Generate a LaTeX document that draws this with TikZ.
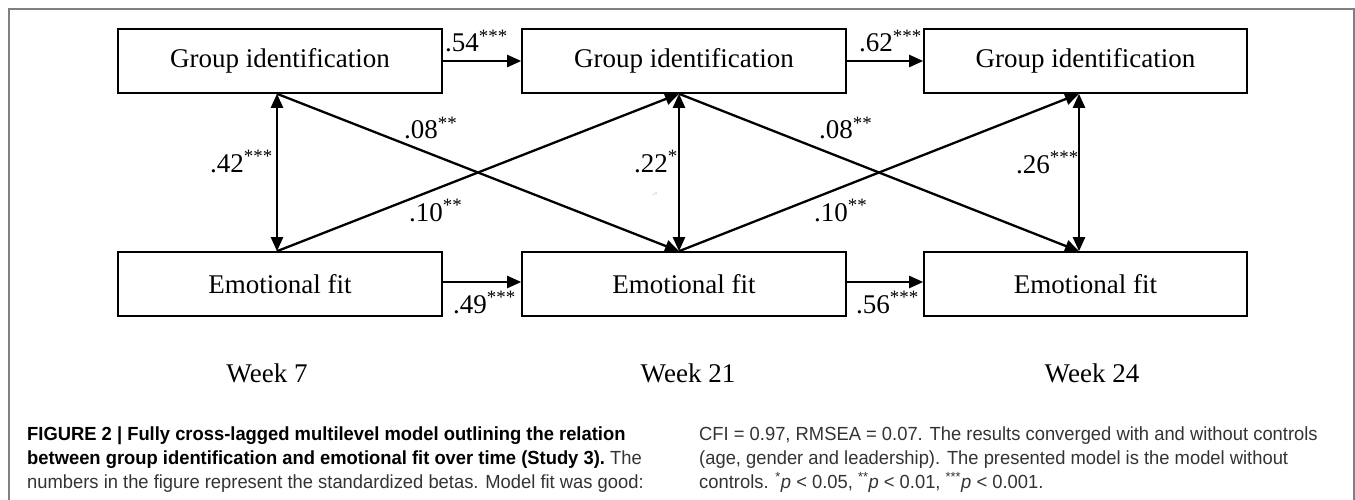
\documentclass[tikz,border=0pt]{standalone}
\usepackage{fontspec}
\setmainfont{Liberation Serif}
\newfontfamily\capfont[FakeStretch=0.967]{Liberation Sans}
\usetikzlibrary{arrows.meta,calc}
\begin{document}
\begin{tikzpicture}[x=1pt,y=-1pt,
  box/.style={draw, line width=1.6pt, minimum width=324pt, minimum height=64pt, inner sep=0pt, font=\fontsize{27}{32}\selectfont},
  arr/.style={line width=2.3pt, -{Triangle[length=14pt,width=12pt]}},
  darr/.style={line width=2.3pt, {Triangle[length=14pt,width=12pt]}-{Triangle[length=14pt,width=12pt]}},
  coef/.style={anchor=base west, inner sep=0pt, font=\fontsize{27}{32}\selectfont},
  week/.style={anchor=base, inner sep=0pt, font=\fontsize{27}{32}\selectfont},
  captext/.style={anchor=base west, inner sep=0pt, text=black!80, font=\capfont\fontsize{19}{24}\selectfont},
  captextb/.style={captext, text=black}]
\useasboundingbox (0,0) rectangle (1355,500);
% frame
\draw[black!50, line width=1.2pt] (9,500) -- (9,9) -- (1354,9) -- (1354,500);
% boxes
\node[box] (g1) at (280,61) {Group identification};
\node[box] (g2) at (684,61) {Group identification};
\node[box, minimum width=323pt] (g3) at (1085.5,61) {Group identification};
\node[box] (e1) at (280,284) {Emotional fit};
\node[box] (e2) at (684,284) {Emotional fit};
\node[box, minimum width=323pt] (e3) at (1085.5,284) {Emotional fit};
% anchor points
\coordinate (g1s) at ([xshift=-3pt]g1.south);
\coordinate (g2s) at ([xshift=-5pt]g2.south);
\coordinate (g3s) at ([xshift=-6.5pt]g3.south);
\coordinate (e1n) at ([xshift=-3pt]e1.north);
\coordinate (e2n) at ([xshift=-5pt]e2.north);
\coordinate (e3n) at ([xshift=-6.5pt]e3.north);
% horizontal paths
\draw[arr] (g1) -- (g2);
\draw[arr] (g2) -- (g3);
\draw[arr] ([yshift=2pt]e1.east) -- ([yshift=2pt]e2.west);
\draw[arr] ([yshift=2pt]e2.east) -- ([yshift=2pt]e3.west);
% correlations
\draw[darr] (g1s) -- (e1n);
\draw[darr] (g2s) -- (e2n);
\draw[darr] (g3s) -- (e3n);
% cross-lagged
\draw[arr] (g1s) -- (e2n);
\draw[arr] (e1n) -- (g2s);
\draw[arr] (g2s) -- (e3n);
\draw[arr] (e2n) -- (g3s);
% coefficients
\node[coef] (l54) at (445,52) {.54\textsuperscript{***}};
\node[coef] (l62) at (859,52) {.62\textsuperscript{***}};
\node[coef] (l42) at (210,172) {.42\textsuperscript{***}};
\node[coef] (l22) at (634,172) {.22\textsuperscript{*}};
\node[coef] (l26) at (1016,173) {.26\textsuperscript{***}};
\node[coef] (l08a) at (404,139) {.08\textsuperscript{**}};
\node[coef] (l08b) at (819,139) {.08\textsuperscript{**}};
\node[coef] (l10a) at (409,221) {.10\textsuperscript{**}};
\node[coef] (l10b) at (814,221) {.10\textsuperscript{**}};
\node[coef] (l49) at (453,313) {.49\textsuperscript{***}};
\node[coef] (l56) at (856,313) {.56\textsuperscript{***}};
\node[anchor=base, inner sep=0pt, text=black!45, font=\fontsize{8}{8}\selectfont] (stray) at (655,195) {.-};
% weeks
\node[week] (w7) at (267,382) {Week 7};
\node[week] (w21) at (688,382) {Week 21};
\node[week] (w24) at (1092,382) {Week 24};
% caption
\node[captextb] (c1) at (27,440) {\bfseries FIGURE 2 | Fully cross-lagged multilevel model outlining the relation};
\node[captextb] (c2) at (27,464) {{\bfseries between group identification and emotional fit over time (Study 3).}\ {\color{black!80}The}};
\node[captext] (c3) at (27,488) {numbers in the figure represent the standardized betas. Model fit was good:};
\node[captext] (c4) at (699,440) {CFI = 0.97, RMSEA = 0.07. The results converged with and without controls};
\node[captext] (c5) at (699,464) {(age, gender and leadership). The presented model is the model without};
\node[captext] (c6) at (699,488) {controls. \textsuperscript{*}\textit{p} < 0.05, \textsuperscript{**}\textit{p} < 0.01, \textsuperscript{***}\textit{p} < 0.001.};
\end{tikzpicture}
\end{document}
